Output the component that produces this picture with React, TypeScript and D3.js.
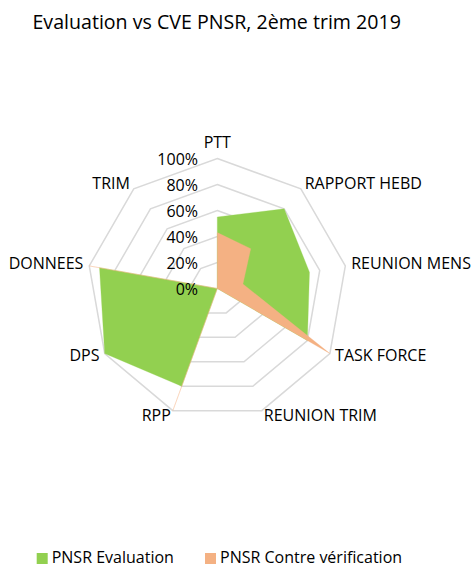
import React from "react";
import * as d3 from "d3";

const categories = ["PTT", "RAPPORT HEBD", "REUNION MENS", "TASK FORCE", "REUNION TRIM", "RPP", "DPS", "DONNEES", "TRIM"];
const evaluationValues = [0.55, 0.8, 0.72, 0.8, 0, 0.8, 1.0, 0.92, 0];
const contreVerificationValues = [0.43, 0.4, 0.2, 1.0, 0, 1.0, 0, 1.0, 0];
const tickValues = [0, 0.2, 0.4, 0.6, 0.8, 1.0];
const seriesNames = ["PNSR Evaluation", "PNSR Contre vérification"];
const seriesColors = ["#92d050", "#f4b183"];

const W = 475;
const H = 567;
const cx = 217.3;
const cy = 288.5;
const R = 130;
const FONT = "'Open Sans', sans-serif";

export default function App() {
  const n = categories.length;
  const angle = d3.scaleLinear().domain([0, n]).range([0, 2 * Math.PI]);
  const r = d3.scaleLinear().domain([0, 1]).range([0, R]);
  const pt = (i: number, v: number): [number, number] => {
    const a = angle(i);
    return [cx + r(v) * Math.sin(a), cy - r(v) * Math.cos(a)];
  };
  const line = d3.line<[number, number]>().curve(d3.curveLinearClosed);
  const ring = (v: number) => line(categories.map((_, i) => pt(i, v))) || "";
  const series = [evaluationValues, contreVerificationValues];
  const fmt = d3.format(".0%");

  return (
    <svg width={W} height={H} style={{ position: "absolute", left: 0, top: 0, background: "#fff" }} fontFamily={FONT}>
      <text x={216.7} y={28.5} textAnchor="middle" fontSize={19.6} fill="#000">
        Evaluation vs CVE PNSR, 2ème trim 2019
      </text>
      {tickValues.slice(1).map((t) => (
        <path key={t} d={ring(t)} fill="none" stroke="#d9d9d9" strokeWidth={1.5} />
      ))}
      {series.map((vals, s) => (
        <path
          key={s}
          d={line(vals.map((v, i) => pt(i, v))) || ""}
          fill={seriesColors[s]}
          stroke={seriesColors[s]}
          strokeWidth={0.5}
          strokeOpacity={0.6}
        />
      ))}
      {tickValues.map((t) => (
        <text key={t} x={198} y={cy - r(t) + 2} textAnchor="end" dominantBaseline="middle" fontSize={16} fill="#000">
          {fmt(t)}
        </text>
      ))}
      {categories.map((c, i) => {
        const a = angle(i);
        const s = Math.sin(a);
        const [x, y] = [cx + (R + 6) * s, cy - (R + 6) * Math.cos(a)];
        const anchor = Math.abs(s) < 0.01 ? "middle" : s > 0 ? "start" : "end";
        const dy = Math.cos(a) > 0.9 ? -9 : 0;
        return (
          <text key={c} x={x} y={y + dy} textAnchor={anchor} dominantBaseline="middle" fontSize={16} fill="#000">
            {c}
          </text>
        );
      })}
      {seriesNames.map((name, s) => {
        const lx = [36.7, 205][s];
        return (
          <g key={name}>
            <rect x={lx} y={553} width={11} height={11} fill={seriesColors[s]} />
            <text x={lx + 15} y={563} fontSize={16} fill="#000">
              {name}
            </text>
          </g>
        );
      })}
    </svg>
  );
}
